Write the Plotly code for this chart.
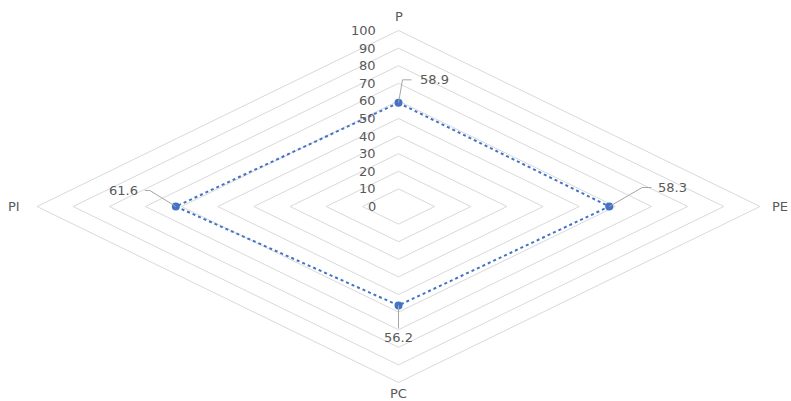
import plotly.graph_objects as go

categories = ["P", "PE", "PC", "PI"]
values = [58.9, 58.3, 56.2, 61.6]
ring_levels = [0, 10, 20, 30, 40, 50, 60, 70, 80, 90, 100]
value_labels = ["58.9", "58.3", "56.2", "61.6"]

# layout geometry (pixels)
W, H = 791, 401
CX, CY = 398.5, 206.5      # centre in pixels
RX, RY = 361.5, 176.0      # pixel length of value 100 horizontally / vertically
XPP = 100.0 / RX           # data units per pixel (x)
YPP = 100.0 / RY           # data units per pixel (y)

dirs = [(0, 1), (1, 0), (0, -1), (-1, 0)]  # P up, PE right, PC down, PI left

BLUE = "#4472C4"
GRID = "#D9D9D9"
TXT = "#595959"
FONT = "DejaVu Sans"
FS = 13

fig = go.Figure()

# grid diamonds
for r in ring_levels[1:]:
    xs = [d[0] * r for d in dirs] + [dirs[0][0] * r]
    ys = [d[1] * r for d in dirs] + [dirs[0][1] * r]
    fig.add_trace(go.Scatter(x=xs, y=ys, mode="lines",
                             line=dict(color=GRID, width=1),
                             hoverinfo="skip", showlegend=False))

# data series
sx = [d[0] * v for d, v in zip(dirs, values)]
sy = [d[1] * v for d, v in zip(dirs, values)]
fig.add_trace(go.Scatter(x=sx + [sx[0]], y=sy + [sy[0]], mode="lines",
                         line=dict(color=BLUE, width=2, dash="dot"),
                         hoverinfo="skip", showlegend=False))
fig.add_trace(go.Scatter(x=sx, y=sy, mode="markers",
                         marker=dict(color=BLUE, size=8),
                         showlegend=False))

# leader lines + data labels (pixel offsets: bend point, end point, label anchor)
leaders = [
    ((4, 23), (13, 23), (19, 23), "left", "middle"),
    ((33, 19), (42, 19), (47, 19), "left", "middle"),
    ((0, -23), (0, -23), (0, -32), "center", "middle"),
    ((-26, 16), (-31, 16), (-36, 16), "right", "middle"),
]
for (px, py, lab, (b, e, t, xa, ya)) in zip(sx, sy, value_labels, leaders):
    lx = [px, px + b[0] * XPP, px + e[0] * XPP]
    ly = [py, py + b[1] * YPP, py + e[1] * YPP]
    fig.add_trace(go.Scatter(x=lx, y=ly, mode="lines",
                             line=dict(color="#A6A6A6", width=1),
                             hoverinfo="skip", showlegend=False))
    fig.add_annotation(x=px + t[0] * XPP, y=py + t[1] * YPP, text=lab,
                       showarrow=False, xanchor=xa, yanchor=ya,
                       font=dict(family=FONT, size=FS, color=TXT))

# radial tick labels
for r in ring_levels:
    fig.add_annotation(x=0, y=r, text=str(r), showarrow=False,
                       xanchor="right", yanchor="middle", xshift=-21,
                       font=dict(family=FONT, size=FS, color=TXT))

# category labels
cat_pos = [
    (0, 14, "center"),
    (10, 0, "left"),
    (0, -11, "center"),
    (-15, 0, "right"),
]
for cat, d, (xs_, ys_, xa) in zip(categories, dirs, cat_pos):
    fig.add_annotation(x=d[0] * 100, y=d[1] * 100, text=cat, showarrow=False,
                       xanchor=xa, yanchor="middle", xshift=xs_, yshift=ys_,
                       font=dict(family=FONT, size=FS, color=TXT))

fig.update_layout(
    width=W, height=H,
    margin=dict(l=0, r=0, t=0, b=0),
    paper_bgcolor="white", plot_bgcolor="white",
    xaxis=dict(range=[-CX * XPP, (W - CX) * XPP], visible=False, fixedrange=True),
    yaxis=dict(range=[-(H - CY) * YPP, CY * YPP], visible=False, fixedrange=True),
    showlegend=False,
)

fig.write_html("out.html",
               config={"displayModeBar": False},
               post_script="document.body.style.margin='0';document.body.style.overflow='hidden';")
